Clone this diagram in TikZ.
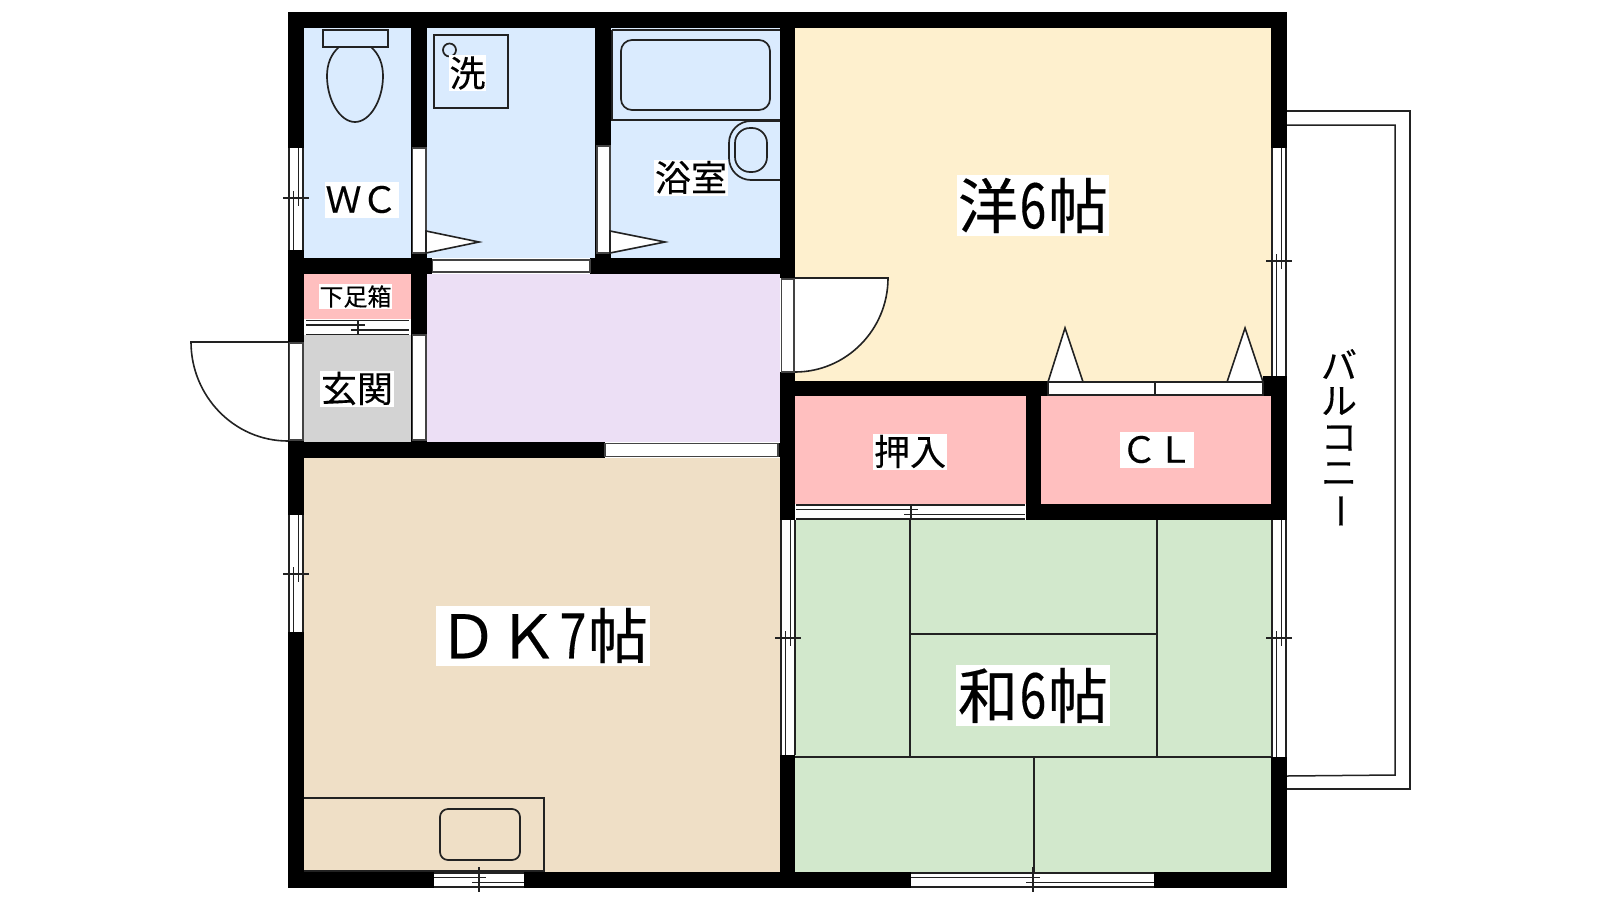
\documentclass[tikz,border=0pt]{standalone}
\usepackage{fontspec}
\usepackage{graphicx}
\setmainfont{Noto Sans CJK JP}[FakeBold=0.25]
\definecolor{cblue}{HTML}{DAEBFE}
\definecolor{cpink}{HTML}{FFBFBF}
\definecolor{cpurple}{HTML}{ECDFF5}
\definecolor{cgray}{HTML}{D3D3D3}
\definecolor{ctan}{HTML}{EFDFC6}
\definecolor{ccream}{HTML}{FEF0CE}
\definecolor{cgreen}{HTML}{D2E8CC}
\definecolor{cline}{HTML}{222222}
\newcommand{\wallr}[4]{\fill[black] (#1,#2) rectangle (#3,#4);}
\newcommand{\roomr}[5]{\fill[#1] (#2,#3) rectangle (#4,#5);}
% vertical sliding window: x left, y1, y2, stile y
\newcommand{\winv}[4]{%
  \fill[white] (#1,#2) rectangle ({#1+16},#3);
  \draw[thin line] (#1+1,#2) -- (#1+1,#3);
  \draw[thin line] (#1+15,#2) -- (#1+15,#3);
  \draw[thin line] (#1+5.5,#4-7) -- (#1+5.5,#3);
  \draw[thin line] (#1+10.5,#2) -- (#1+10.5,#4+8);
  \draw[thin line] (#1-5,#4) -- (#1+21,#4);
}
% horizontal sliding window: x1, x2, y top, stile x, stile y1, stile y2
\newcommand{\winh}[6]{%
  \fill[white] (#1,#3) rectangle (#2,#3+15);
  \draw[thin line] (#1,#3+1) -- (#2,#3+1);
  \draw[thin line] (#1,#3+15) -- (#2,#3+15);
  \draw[thin line] (#1,#3+5.5) -- (#4+7,#3+5.5);
  \draw[thin line] (#4-7,#3+10.5) -- (#2,#3+10.5);
  \draw[thin line] (#4,#5) -- (#4,#6);
}
\newcommand{\nsix}{\kern1.7pt\scalebox{.8}[1.05]{6}\kern1.7pt}
\newcommand{\nsev}{\kern1.7pt\scalebox{.8}[1.05]{7}\kern1.7pt}
\tikzset{
  thin line/.style={draw=cline,line width=1.2pt},
  fixture/.style={draw=cline,line width=1.7pt},
  doorleaf/.style={draw=cline,line width=1.6pt,fill=white},
  plainwin/.style={draw=cline!85,line width=1.2pt,fill=white},
  lbl/.style={fill=white,inner sep=0pt,outer sep=0pt,text=black,align=center},
  lblL/.style={lbl,font=\fontsize{60}{60}\selectfont},
  lblM/.style={lbl,font=\fontsize{36}{36}\selectfont,minimum height=36pt},
  lblS/.style={lbl,font=\fontsize{24}{24}\selectfont,minimum height=25pt},
  balc/.style={inner sep=0pt,outer sep=0pt,text=black,font=\fontsize{36}{36}\selectfont},
}
\begin{document}
\begin{tikzpicture}[x=1pt,y=-1pt]
\useasboundingbox (0,0) rectangle (1600,900);
\fill[white] (0,0) rectangle (1600,900);
% rooms
\roomr{cblue}{304}{28}{411}{258}
\roomr{cblue}{427}{28}{595}{258}
\roomr{cblue}{611}{28}{780}{258}
\roomr{cpink}{304}{274}{411}{319}
\roomr{cgray}{304}{335}{411}{442}
\roomr{cpurple}{427}{274}{780}{442}
\roomr{ctan}{304}{458}{780}{872}
\roomr{ccream}{795}{28}{1271}{381}
\roomr{cpink}{795}{396}{1026}{504}
\roomr{cpink}{1041}{396}{1271}{504}
\roomr{cgreen}{795}{520}{1271}{872}
% tatami lines
\draw[thin line,line width=1.5pt] (910,520) -- (910,757);
\draw[thin line,line width=1.5pt] (1157,520) -- (1157,757);
\draw[thin line,line width=1.5pt] (910,634) -- (1157,634);
\draw[thin line,line width=1.5pt] (795,757) -- (1271,757);
\draw[thin line,line width=1.5pt] (1034,757) -- (1034,872);
% balcony
\draw[thin line,line width=1.5pt] (1287,111) -- (1410,111) -- (1410,789) -- (1287,789);
\draw[thin line,line width=1.5pt] (1287,125) -- (1395,125) -- (1395,775) -- (1287,776);
% outer walls
\wallr{288}{12}{1287}{28}
\wallr{288}{872}{1287}{888}
\wallr{288}{12}{304}{888}
\wallr{1271}{12}{1287}{888}
% inner walls
\wallr{411}{12}{427}{335}
\wallr{595}{12}{611}{258}
\wallr{288}{258}{432}{274}
\wallr{590}{258}{795}{274}
\wallr{780}{12}{795}{278}
\wallr{780}{372}{795}{888}
\wallr{795}{381}{1048}{396}
\wallr{1026}{381}{1041}{520}
\wallr{1026}{504}{1287}{520}
\wallr{1263}{376}{1287}{396}
\wallr{288}{442}{605}{458}
\wallr{778}{443}{780}{457}
\wallr{411}{335}{427}{442}
% plain openings
\fill[white] (605,443) rectangle (778,457);
\draw[plainwin] (605,443.5) rectangle (778,456.5);
\draw[plainwin] (432.5,260) rectangle (590,272);
\draw[plainwin] (412.5,148) rectangle (426,253);
\draw[plainwin] (597,146) rectangle (610,253);
\draw[plainwin] (412.5,335) rectangle (426,440);
\draw[plainwin] (289.5,343) rectangle (303,440);
\draw[plainwin] (781.5,279) rectangle (794,372);
% closet sliding doors
\draw[plainwin,draw=cline] (1048,382) rectangle (1263,395);
\draw[thin line] (1155,382) -- (1155,395);
% sliding windows
\winv{288}{148}{250}{198}
\winv{288}{515}{632}{574}
\winv{1271}{148}{376}{261}
\winv{1271}{520}{757}{638}
\winv{780}{520}{755}{638}
\winh{306}{409}{319.5}{358}{320}{335}
\winh{796}{1025}{504}{911}{504}{519}
\winh{434}{524}{872}{479}{867}{892}
\winh{911}{1154}{872}{1033}{867}{892}
% door leaves
\draw[doorleaf] (426,231) -- (479,242) -- (426,253) -- cycle;
\draw[doorleaf] (610,231) -- (665,242) -- (610,253) -- cycle;
\draw[doorleaf] (1048,382) -- (1065,328) -- (1083,382) -- cycle;
\draw[doorleaf] (1227,382) -- (1245,328) -- (1263,382) -- cycle;
\draw[doorleaf] (288,342) -- (191,342) .. controls (191,396) and (234,441) .. (288,441);
\draw[doorleaf] (795,278) -- (888,278) .. controls (888,330) and (846,372) .. (795,372);
% toilet
\draw[fixture] (323,30) rectangle (388,47);
\draw[fixture] (339,47) .. controls (331,54) and (327,64) .. (327,76)
  .. controls (327,100) and (340,122) .. (355,122)
  .. controls (370,122) and (383,100) .. (383,76)
  .. controls (383,64) and (379,54) .. (371,47);
% washer
\draw[thin line,line width=1.6pt] (434,35) rectangle (508,108);
\draw[fixture] (449.5,50) circle (6.5);
% bath
\draw[thin line,line width=1.5pt] (612,30) -- (780,30) (612,30) -- (612,120) -- (780,120);
\draw[fixture,rounded corners=11pt] (621,40) rectangle (770,110);
\draw[fixture,rounded corners=22pt] (780,121) -- (729,121) -- (729,180) -- (780,180);
\draw[fixture,rounded corners=15pt] (735,128) rectangle (767,172);
% kitchen
\draw[thin line,line width=1.5pt] (304,798) -- (544,798) -- (544,871) -- (304,871);
\draw[fixture,rounded corners=8pt] (440,809) rectangle (520,860);
% labels
\node[lblM,minimum width=74pt] (wc) at (361.5,199.5) {ＷＣ};
\node[lblM,minimum width=37pt] (sen) at (467.5,73) {洗};
\node[lblM,minimum width=74pt] (yoku) at (691,177.5) {浴室};
\node[lblS,minimum width=73pt] (geta) at (355.5,296.5) {下足箱};
\node[lblM,minimum width=74pt] (genkan) at (357,388.5) {玄関};
\node[lblM,minimum width=74pt] (oshi) at (910,451.5) {押入};
\node[lblM,minimum width=74pt] (cl) at (1157,449.5) {ＣＬ};
\node[lblL,minimum width=152pt,minimum height=61pt] (you) at (1033,205.5) {洋\nsix 帖};
\node[lblL,minimum width=154pt,minimum height=61pt] (wa) at (1033,695.5) {和\nsix 帖};
\node[lblL,minimum width=214pt,minimum height=60pt] (dk) at (543,635.5) {ＤＫ\nsev 帖};
% balcony text
\node[balc] (b1) at (1339,364) {バ};
\node[balc] (b2) at (1339,401) {ル};
\node[balc] (b3) at (1339,438) {コ};
\node[balc] (b4) at (1339,474) {ニ};
\node[balc,rotate=90] (b5) at (1347,511) {ー};
\end{tikzpicture}
\end{document}
